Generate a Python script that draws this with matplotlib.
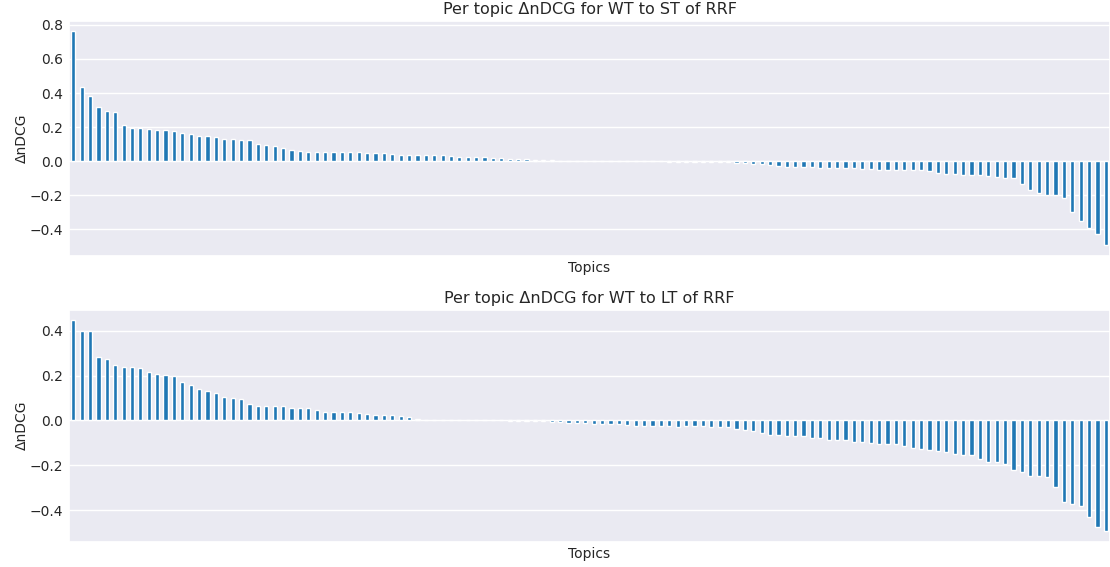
import matplotlib
matplotlib.use("Agg")
import matplotlib.pyplot as plt
import numpy as np
import seaborn as sns

# Per topic delta nDCG values, sorted descending
st_delta = [
    0.762, 0.436, 0.380, 0.320, 0.293, 0.291, 0.213, 0.195, 0.193, 0.191,
    0.183, 0.183, 0.179, 0.167, 0.157, 0.149, 0.149, 0.143, 0.129, 0.129,
    0.125, 0.125, 0.101, 0.092, 0.090, 0.078, 0.066, 0.060, 0.056, 0.056,
    0.056, 0.055, 0.054, 0.053, 0.051, 0.049, 0.047, 0.045, 0.040, 0.037,
    0.037,
    0.034, 0.034, 0.034, 0.033, 0.030, 0.026, 0.026, 0.022, 0.022, 0.018,
    0.016, 0.014, 0.010, 0.010, 0.008, 0.004, 0.004, 0.002, 0.002,
    0.0, 0.0, 0.0, 0.0, 0.0, 0.0, 0.0, 0.0, 0.0, 0.0,
    -0.002, -0.003, -0.003, -0.004, -0.004, -0.006, -0.006, -0.006, -0.006, -0.010,
    -0.012,
    -0.016, -0.017, -0.024, -0.028, -0.034, -0.034, -0.037, -0.037, -0.041, -0.041,
    -0.041, -0.041, -0.041,
    -0.046, -0.046, -0.051, -0.051, -0.051, -0.051, -0.053, -0.055, -0.059, -0.070,
    -0.076, -0.076, -0.080, -0.080, -0.084, -0.089, -0.094, -0.098, -0.101, -0.137,
    -0.171, -0.185, -0.199, -0.199, -0.217, -0.301, -0.353, -0.393, -0.426, -0.493,
]

lt_delta = [
    0.448, 0.401, 0.401, 0.282, 0.276, 0.246, 0.241, 0.239, 0.233, 0.217,
    0.206, 0.202, 0.199, 0.171, 0.157, 0.140, 0.131, 0.122, 0.105, 0.099,
    0.097, 0.073, 0.065, 0.064, 0.064, 0.064, 0.058, 0.056, 0.056, 0.046,
    0.039, 0.037, 0.036, 0.036, 0.032, 0.027, 0.025, 0.025, 0.023, 0.020,
    0.017,
    0.005, 0.004, 0.004,
    0.0, 0.0, 0.0, 0.0, 0.0, 0.0, 0.0, 0.0,
    -0.003, -0.003, -0.003, -0.003, -0.004, -0.006, -0.006, -0.010, -0.010, -0.010,
    -0.015, -0.015, -0.015, -0.015, -0.018, -0.024, -0.024, -0.024, -0.024, -0.024,
    -0.027,
    -0.026, -0.026, -0.026, -0.027, -0.027, -0.031, -0.039, -0.042, -0.048, -0.057,
    -0.064, -0.065, -0.070, -0.071, -0.071, -0.077, -0.077, -0.085, -0.085, -0.088,
    -0.094, -0.097, -0.101, -0.106, -0.106, -0.106, -0.115, -0.125, -0.129, -0.132,
    -0.135, -0.141, -0.150, -0.153, -0.155, -0.174, -0.184, -0.184, -0.195, -0.223,
    -0.232, -0.250, -0.250, -0.253, -0.299, -0.364, -0.373, -0.381, -0.431, -0.477,
    -0.494,
]

titles = [
    "Per topic \u0394nDCG for WT to ST of RRF",
    "Per topic \u0394nDCG for WT to LT of RRF",
]

sns.set_theme(style="darkgrid")

fig = plt.figure(figsize=(11.1, 5.67), dpi=100)
# axes placed to match the reference layout
ax_top = fig.add_axes([0.0622, 0.549, 0.9378, 0.4145])
ax_bot = fig.add_axes([0.0622, 0.0446, 0.9378, 0.4094])

for ax, values, title in zip([ax_top, ax_bot], [st_delta, lt_delta], titles):
    x = np.arange(len(values))
    ax.bar(x, values, width=0.5, color="#1f77b4", edgecolor="white", linewidth=1.0)
    ax.set_xlim(-0.5, len(values) - 0.5)
    ax.set_xticks([])
    ax.set_title(title, fontsize=11.5, pad=5)
    ax.set_xlabel("Topics", fontsize=10)
    ax.set_ylabel("\u0394nDCG", fontsize=10, labelpad=1)
    ax.tick_params(axis="y", labelsize=10, length=0, pad=4)

fig.savefig("out.png", dpi=100)
